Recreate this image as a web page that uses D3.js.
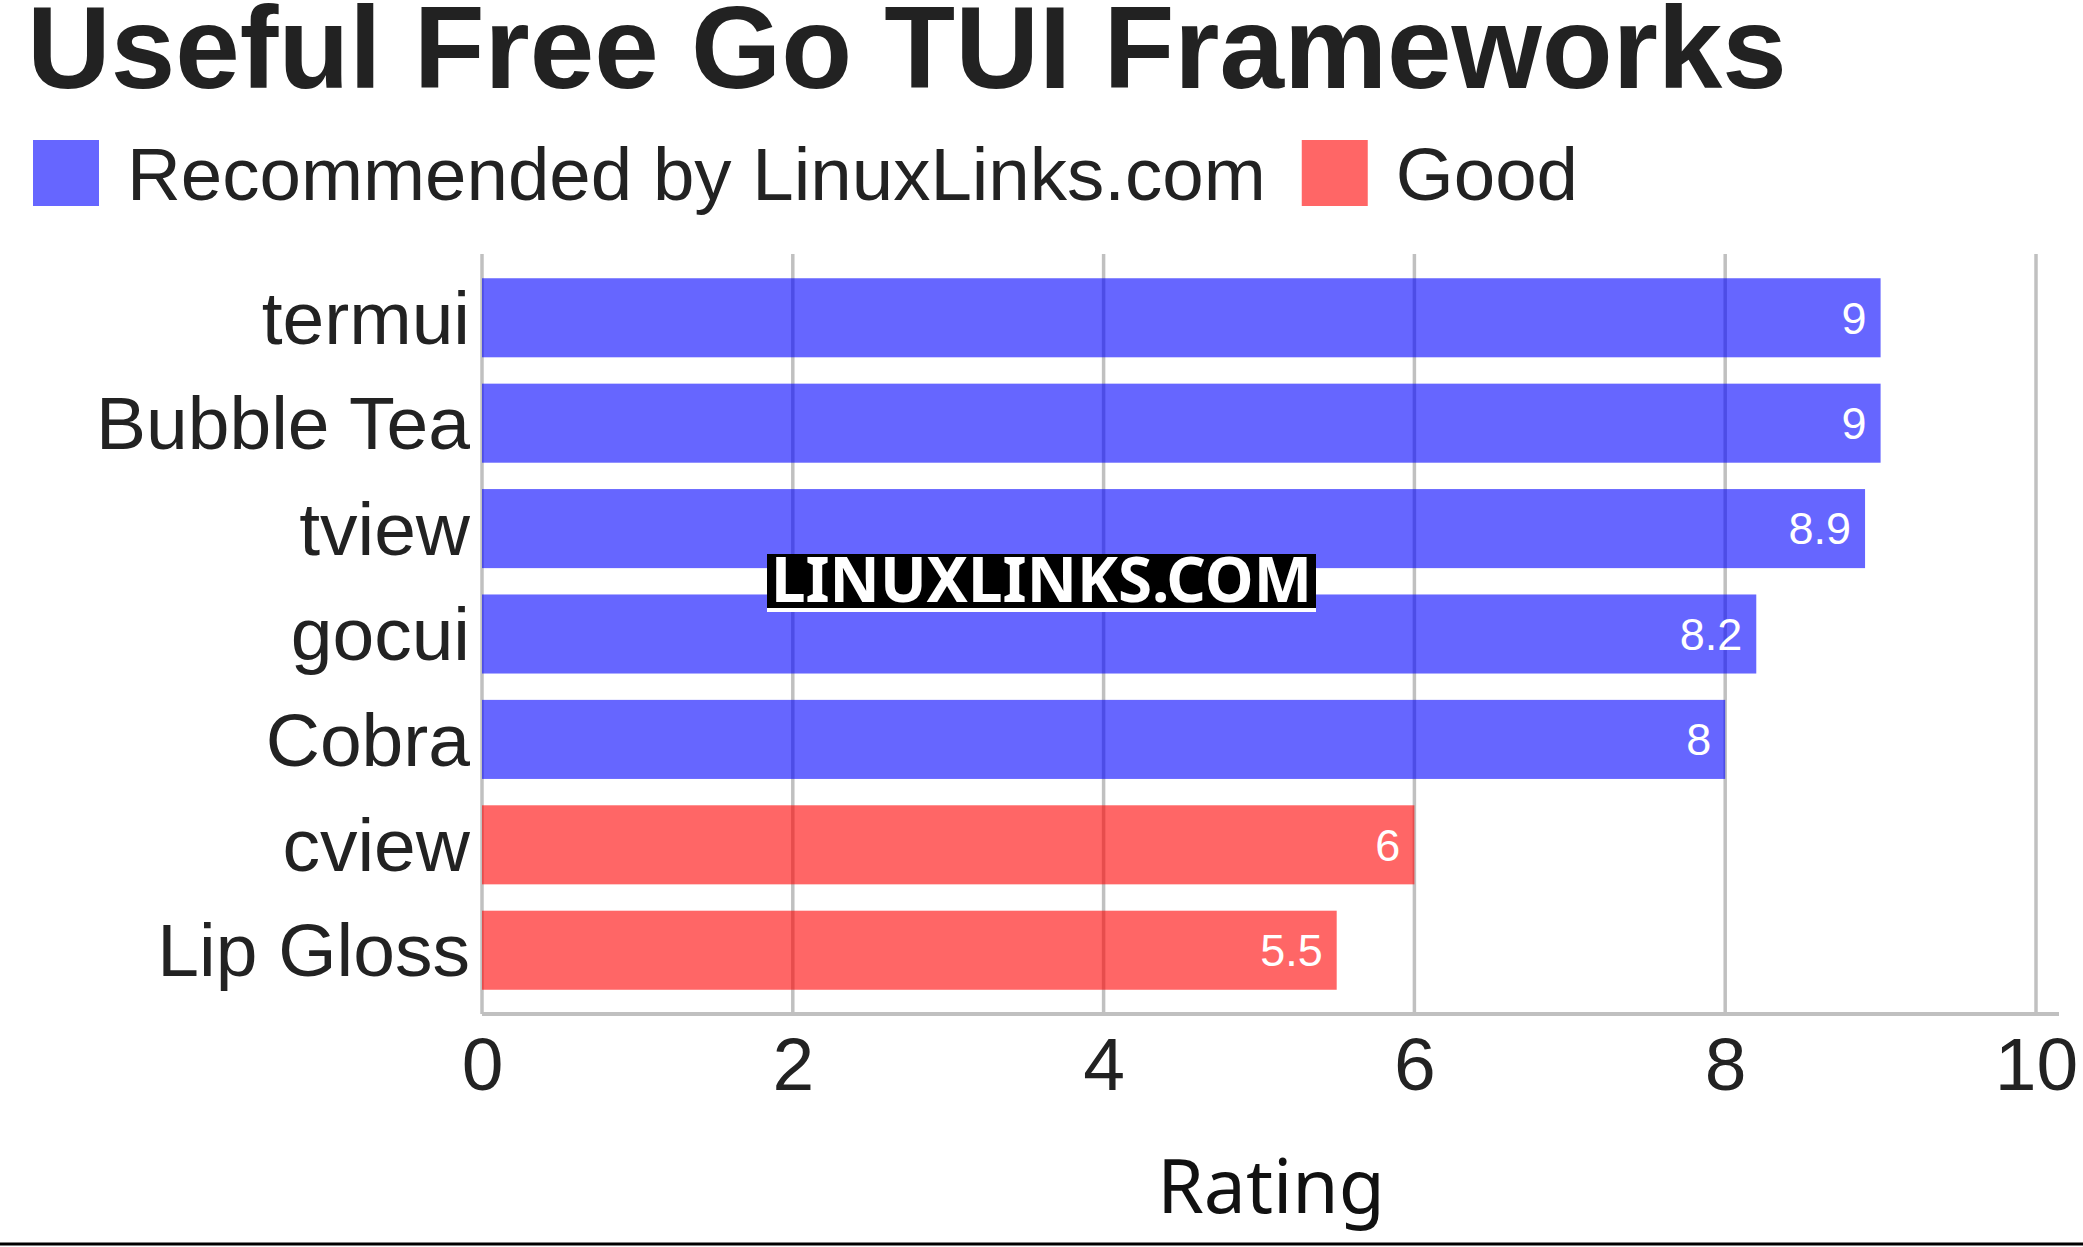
<!DOCTYPE html>
<html>
<head>
<meta charset="utf-8">
<script src="https://cdn.jsdelivr.net/npm/d3@7"></script>
<style>
  html, body { margin: 0; padding: 0; background: #fff; }
  svg { display: block; }
</style>
</head>
<body>
<svg id="chart" width="2083" height="1247"></svg>
<script>
const categories = ["termui", "Bubble Tea", "tview", "gocui", "Cobra", "cview", "Lip Gloss"];
const ratings = [9, 9, 8.9, 8.2, 8, 6, 5.5];
const groups = ["Recommended", "Recommended", "Recommended", "Recommended", "Recommended", "Good", "Good"];
const legendLabels = ["Recommended by LinuxLinks.com", "Good"];
const legendKeys = ["Recommended", "Good"];
const xTicks = [0, 2, 4, 6, 8, 10];
const titleText = "Useful Free Go TUI Frameworks";
const xAxisTitle = "Rating";

const colorFill = d3.scaleOrdinal().domain(legendKeys).range(["#0000ff", "#ff0000"]);

const svg = d3.select("#chart");
const W = 2083, H = 1247;

const x = d3.scaleLinear().domain([0, 10]).range([482, 2036]);
const y = d3.scaleBand().domain(categories).range([254, 1014]).paddingInner(0.25).paddingOuter(0.23);

// Title
svg.append("text")
  .attr("x", 27).attr("y", 88)
  .attr("font-family", "Liberation Sans, Arial, sans-serif")
  .attr("font-weight", "bold").attr("font-size", 116)
  .attr("fill", "#222")
  .text(titleText);

// Legend
const legend = svg.append("g");
let lx = 33;
legendKeys.forEach((k, i) => {
  legend.append("rect").attr("x", lx).attr("y", 140).attr("width", 66).attr("height", 66)
    .attr("fill", colorFill(k)).attr("fill-opacity", 0.6);
  const t = legend.append("text").attr("x", lx + 94).attr("y", 200)
    .attr("font-family", "Liberation Sans, Arial, sans-serif")
    .attr("font-size", 74.5).attr("fill", "#222").text(legendLabels[i]);
  lx = lx + 94 + t.node().getComputedTextLength() + 36;
});

// Gridlines
svg.append("g").selectAll("line").data(xTicks).join("line")
  .attr("x1", d => x(d)).attr("x2", d => x(d))
  .attr("y1", 254).attr("y2", 1014)
  .attr("stroke", "#c0c0c0").attr("stroke-width", 3.5);

// Bars
svg.append("g").selectAll("rect").data(categories).join("rect")
  .attr("x", x(0)).attr("y", d => y(d))
  .attr("width", (d, i) => x(ratings[i]) - x(0))
  .attr("height", y.bandwidth())
  .attr("fill", (d, i) => colorFill(groups[i])).attr("fill-opacity", 0.6);

// Value labels
svg.append("g").selectAll("text").data(categories).join("text")
  .attr("x", (d, i) => x(ratings[i]) - 14)
  .attr("y", d => y(d) + y.bandwidth() / 2)
  .attr("dy", "0.35em")
  .attr("text-anchor", "end")
  .attr("font-family", "Liberation Sans, Arial, sans-serif")
  .attr("font-size", 45).attr("fill", "#fff")
  .text((d, i) => ratings[i]);

// Bottom axis line
svg.append("line").attr("x1", 482).attr("x2", 2059).attr("y1", 1014).attr("y2", 1014)
  .attr("stroke", "#c0c0c0").attr("stroke-width", 4);

// X axis tick labels
const xAxis = d3.axisBottom(x).tickValues(xTicks).tickSize(0).tickPadding(0).tickFormat(d3.format("d"));
const gx = svg.append("g").attr("transform", "translate(0,1090)").call(xAxis);
gx.select(".domain").remove();
gx.selectAll("text")
  .attr("y", 0).attr("dy", 0)
  .attr("font-family", "Liberation Sans, Arial, sans-serif")
  .attr("font-size", 75).attr("fill", "#222");

// Y axis category labels
const yAxis = d3.axisLeft(y).tickSize(0).tickPadding(0);
const gy = svg.append("g").attr("transform", "translate(470,0)").call(yAxis);
gy.select(".domain").remove();
gy.selectAll("text")
  .attr("x", 0).attr("dy", "0.35em")
  .attr("font-family", "Liberation Sans, Arial, sans-serif")
  .attr("font-size", 75).attr("fill", "#222");

// Axis title
svg.append("text").attr("x", 1271).attr("y", 1213)
  .attr("text-anchor", "middle")
  .attr("font-family", "Noto Sans, Open Sans, sans-serif")
  .attr("font-size", 75).attr("fill", "#111")
  .text(xAxisTitle);

// Watermark
const wm = svg.append("g");
wm.append("rect").attr("x", 767).attr("y", 554).attr("width", 549).attr("height", 54).attr("fill", "#000");
wm.append("rect").attr("x", 767).attr("y", 608).attr("width", 549).attr("height", 4).attr("fill", "#fff");
wm.append("text").attr("x", 771).attr("y", 602)
  .attr("font-family", "Noto Sans, Open Sans, sans-serif")
  .attr("font-weight", "bold").attr("font-size", 62).attr("fill", "#fff")
  .attr("textLength", 541).attr("lengthAdjust", "spacingAndGlyphs")
  .text("LINUXLINKS.COM");

// Bottom border line
svg.append("line").attr("x1", 0).attr("x2", W).attr("y1", 1244).attr("y2", 1244)
  .attr("stroke", "#000").attr("stroke-width", 3);
</script>
</body>
</html>
